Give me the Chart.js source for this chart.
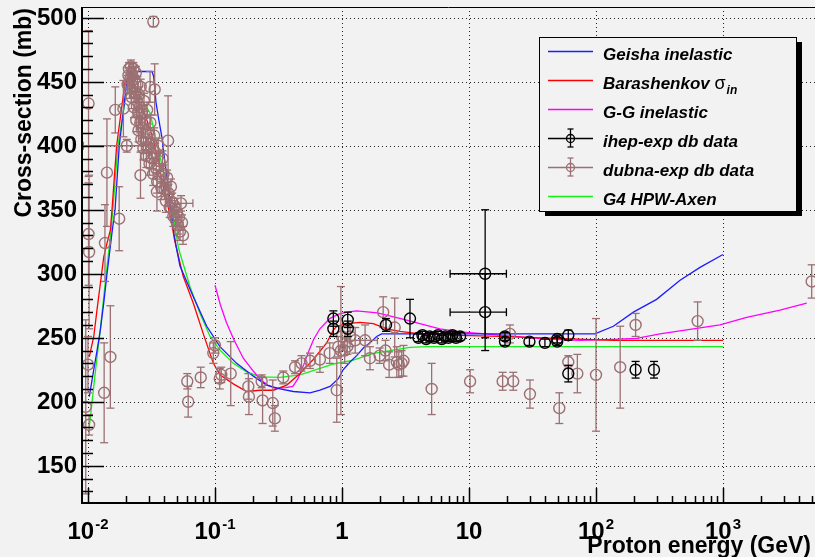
<!DOCTYPE html>
<html>
<head>
<meta charset="utf-8">
<title>Proton inelastic cross-section</title>
<script src="https://cdn.jsdelivr.net/npm/chart.js@4.4.1/dist/chart.umd.min.js"></script>
<style>
  html, body { margin: 0; padding: 0; background: #f2f2f2; }
  canvas { display: block; }
</style>
</head>
<body>
<canvas id="xsChart" width="815" height="557"></canvas>
<script>
// ---- model curves: proton energy (GeV) -> inelastic cross-section (mb) ----
const geishaE  = [0.01024, 0.0111, 0.01178, 0.0125, 0.0133, 0.01412, 0.01545, 0.01633, 0.01763, 0.0202, 0.0226, 0.0319, 0.0329, 0.0343, 0.036, 0.0383, 0.0402, 0.0427, 0.0453, 0.0473, 0.0493, 0.053, 0.0675, 0.0861, 0.1094, 0.148, 0.2005, 0.255, 0.325, 0.414, 0.56, 0.671, 0.805, 0.936, 1.02, 1.156, 1.305, 1.472, 1.66, 1.875, 2.05, 98, 137, 197, 300, 459, 659, 1000];
const geishaXs = [204, 225, 240, 256, 277, 300, 332, 350, 400, 450, 458, 458, 454, 434, 421, 406, 388, 369, 348, 333, 322, 306, 282, 259, 243, 230, 220, 213, 210, 208, 207, 209, 212, 218, 225, 231, 236, 242, 246, 251, 253, 253, 259, 270, 280, 295, 305, 315];

const barashE  = [0.01024, 0.0111, 0.01178, 0.0125, 0.0133, 0.01412, 0.015, 0.01545, 0.0168, 0.0196, 0.0218, 0.0243, 0.0275, 0.031, 0.0329, 0.036, 0.0383, 0.0407, 0.0437, 0.0459, 0.0481, 0.0562, 0.0675, 0.0809, 0.0971, 0.1094, 0.1393, 0.1776, 0.226, 0.288, 0.367, 0.467, 0.594, 0.758, 0.855, 0.909, 1.089, 1.387, 1.763, 2.25, 2.86, 4.11, 7.08, 17.5, 137, 1000];
const barashXs = [235, 251, 272, 292, 313, 324, 334, 350, 400, 450, 455, 437, 427, 412, 403, 388, 372, 362, 348, 338, 326, 298, 277, 253, 230, 221, 214, 208, 209, 209, 213, 222, 233, 246, 256, 259, 261, 262, 261, 257, 255, 253, 252, 251, 248, 248];

const ggE  = [0.1, 0.11, 0.123, 0.14, 0.167, 0.2, 0.23, 0.26, 0.3, 0.36, 0.41, 0.45, 0.5, 0.55, 0.6, 0.67, 0.8, 0.94, 1.1, 1.3, 1.9, 2.9, 4.1, 5.9, 8.5, 12, 17.5, 41, 75, 137, 209, 319, 584, 947, 1535, 2810, 4560];
const ggXs = [291, 276, 262, 249, 234, 224, 217, 213, 210.5, 211, 212, 218, 229, 240, 249, 257, 265, 268.5, 270, 271, 269.5, 265, 261, 257, 254.6, 253.4, 252, 249, 248, 248.8, 249.5, 253, 257, 260, 266, 271.5, 277];

const axenE  = [0.01024, 0.0111, 0.01178, 0.0125, 0.0133, 0.01412, 0.015, 0.0157, 0.0172, 0.0198, 0.0225, 0.0308, 0.0369, 0.0417, 0.047, 0.0514, 0.053, 0.0635, 0.0762, 0.0914, 0.1094, 0.1393, 0.1776, 0.226, 0.325, 0.467, 0.671, 0.855, 1.228, 1.763, 2.535, 3.43, 4.64, 1000];
const axenXs = [180.5, 212, 235, 256, 282, 305.5, 329, 350, 400, 438, 448, 425.5, 391.5, 368, 344.5, 321, 316, 290, 269, 251, 240.4, 230, 223.4, 219.5, 219, 221, 226, 229.5, 232.6, 237.8, 240.4, 242.5, 243, 243];

// ---- ihep measurements ----
const ihepE    = [0.855, 0.855, 1.11, 1.11, 2.22, 3.43, 4.0, 4.3, 4.6, 4.9, 5.3, 5.7, 6.1, 6.5, 6.9, 7.4, 7.9, 8.5, 13.4, 13.4, 19.2, 19.2, 29.9, 39.6, 49.5, 49.5, 60.5, 60.5, 205, 286];
const ihepXs   = [265, 257, 264, 257, 260, 265, 250, 252, 249, 251, 250, 252, 249, 251, 250, 252, 250, 251, 300, 270, 251, 247, 247, 246, 247, 249, 252, 222, 225, 225];
const ihepErr  = [6, 6, 6, 6, 5, 15, 3, 3, 3, 3, 3, 3, 3, 3, 3, 3, 3, 3, 50, 30, 3, 3, 3, 3, 3, 3, 4, 6.5, 6.5, 6.5];
const ihepEErr = [0, 0, 0, 0, 0, 0, 0, 0, 0, 0, 0, 0, 0, 0, 0, 0, 0, 0, 6.3, 6.3, 0, 0, 0, 0, 0, 0, 0, 0, 0, 0];

// ---- dubna measurements, grouped by energy range ----
const dubnaLowE   = [0.0101, 0.0101, 0.0102, 0.0100, 0.0096, 0.0102, 0.0134, 0.0136, 0.0141, 0.0150, 0.0164, 0.0176, 0.0190, 0.0259, 0.0308, 0.0335, 0.0327, 0.0349, 0.0427];
const dubnaLowXs  = [433, 331, 317, 229, 196, 182, 207, 324, 379, 235, 428, 343, 429, 377, 446, 444, 497, 364, 404];
const dubnaLowErr = [57, 40, 60, 22, 68, 8, 39, 30, 42, 40, 18, 25, 22, 18, 12, 20, 4, 15, 35];

const dubnaPeakE = [0.0205, 0.0208, 0.021, 0.0212, 0.0215, 0.0218, 0.022, 0.0222, 0.0225, 0.0228,
  0.023, 0.0232, 0.0235, 0.0238, 0.024, 0.0242, 0.0245, 0.0248, 0.025, 0.0252,
  0.0255, 0.0258, 0.026, 0.0263, 0.0266, 0.027, 0.0273, 0.0276, 0.028, 0.0284,
  0.0288, 0.0292, 0.0296, 0.030, 0.0305, 0.031, 0.0315, 0.032, 0.0326, 0.0332,
  0.0338, 0.0345, 0.035, 0.0357, 0.0364, 0.037, 0.0378, 0.0386, 0.0394, 0.040,
  0.041, 0.042, 0.043, 0.044, 0.045, 0.046, 0.047, 0.048, 0.049, 0.050,
  0.051, 0.052, 0.053, 0.055, 0.056];
const dubnaPeakXs = [448, 455, 460, 445, 452, 462, 438, 456, 447, 460,
  430, 452, 441, 457, 420, 435, 448, 426, 412, 440,
  430, 418, 446, 405, 425, 414, 398, 435, 420, 405,
  392, 428, 410, 398, 386, 418, 402, 390, 378, 408,
  395, 382, 372, 400, 388, 376, 367, 390, 378, 366,
  357, 375, 363, 352, 368, 356, 345, 353, 342, 348,
  338, 344, 333, 340, 330];
const dubnaPeakErr = [7, 6, 5, 8, 6, 5, 9, 6, 7, 5,
  8, 6, 7, 5, 9, 7, 6, 8, 9, 6,
  7, 8, 6, 9, 7, 8, 9, 6, 7, 8,
  9, 6, 7, 8, 9, 6, 7, 8, 9, 6,
  7, 8, 9, 6, 7, 8, 9, 6, 7, 8,
  9, 6, 7, 8, 6, 7, 8, 6, 7, 6,
  7, 6, 7, 6, 7];

const dubnaMidE   = [0.0605, 0.0615, 0.0772, 0.097, 0.100, 0.109, 0.112, 0.133, 0.183, 0.185, 0.233, 0.237, 0.285, 0.296, 0.345, 0.427, 0.48, 0.56, 0.67, 0.80, 0.909, 0.936, 0.98,
  1.0, 1.05, 1.1, 1.16, 1.27, 1.66, 1.98, 2.11, 2.2, 2.35, 2.6, 2.7, 2.8, 2.95, 3.05];
const dubnaMidXs  = [216, 200, 219, 238, 244, 218, 221, 222, 212, 204, 216, 201, 199, 187, 219, 227, 230, 232, 233, 238, 209, 243, 240,
  251, 240, 243, 251, 248, 234, 236, 270, 240, 229, 258, 231, 229, 230, 232];
const dubnaMidErr = [6, 12, 8, 8, 6, 8, 6, 25, 10, 14, 5, 18, 18, 10, 5, 5, 6, 6, 10, 8, 25, 8, 50,
  8, 10, 6, 8, 10, 9, 6, 12, 8, 10, 23, 12, 10, 10, 12];

const dubnaHighE   = [5.08, 10.2, 18.4, 21, 22.3, 30.2, 51.4, 60.5, 71.3, 100, 155, 205, 631, 4990];
const dubnaHighXs  = [210, 216, 216, 253, 216, 206, 195, 231, 222, 221, 227, 260, 263, 294];
const dubnaHighErr = [20, 9, 7, 7, 7, 11, 12, 5, 15, 44, 32, 9, 15, 13];

// dubna points that also carry an energy error
const dubnaWideE    = [0.0202, 0.054, 1.52];
const dubnaWideXs   = [400, 355, 248];
const dubnaWideErr  = [5, 6, 12];
const dubnaWideEErr = [0.011, 0.013, 0.38];

// ---- axis ticks ----
const xDecades = [0.01, 0.1, 1, 10, 100, 1000];
const xTickLabels = [['10', '-2'], ['10', '-1'], ['1', ''], ['10', ''], ['10', '2'], ['10', '3']];
const yMajorTicks = [150, 200, 250, 300, 350, 400, 450, 500];

const BG = '#f2f2f2';
const BROWN = '#9c7073';
const FONT = '"Liberation Sans", Arial, Helvetica, sans-serif';

const dubnaE = [].concat(dubnaLowE, dubnaPeakE, dubnaMidE, dubnaHighE, dubnaWideE);
const dubnaXs = [].concat(dubnaLowXs, dubnaPeakXs, dubnaMidXs, dubnaHighXs, dubnaWideXs);
const dubnaErr = [].concat(dubnaLowErr, dubnaPeakErr, dubnaMidErr, dubnaHighErr, dubnaWideErr);
const dubnaEErr = new Array(dubnaE.length - dubnaWideE.length).fill(0).concat(dubnaWideEErr);

const toPoints = (xs, ys) => xs.map((x, i) => ({ x: x, y: ys[i] }));

function curve(label, color, xs, ys) {
    return {
        label: label,
        data: toPoints(xs, ys),
        showLine: true,
        borderColor: color,
        borderWidth: 1.3,
        pointRadius: 0,
        tension: 0,
        order: 2
    };
}

function markers(label, color, xs, ys, errY, errX, order) {
    return {
        label: label,
        data: toPoints(xs, ys),
        showLine: false,
        pointStyle: 'circle',
        pointRadius: 5.5,
        pointBorderWidth: 1.4,
        pointBorderColor: color,
        pointBackgroundColor: 'rgba(0,0,0,0)',
        errColor: color,
        errY: errY,
        errX: errX,
        order: order
    };
}

// legend entries, in ROOT order
const legendEntries = [
    { text: 'Geisha inelastic', color: '#1c1cff' },
    { text: 'Barashenkov ', sigma: true, color: '#ff0000' },
    { text: 'G-G inelastic', color: '#ff00ff' },
    { text: 'ihep-exp db data', color: '#000000', marker: true },
    { text: 'dubna-exp db data', color: BROWN, marker: true },
    { text: 'G4 HPW-Axen', color: '#18ee18' }
];

function line(ctx, x1, y1, x2, y2) {
    ctx.beginPath();
    ctx.moveTo(x1, y1);
    ctx.lineTo(x2, y2);
    ctx.stroke();
}

// ROOT-like frame: dotted grid, inner ticks, labels, legend with shadow
const rootFrame = {
    id: 'rootFrame',
    beforeDatasetsDraw(chart) {
        const { ctx, chartArea: a, scales: { x, y } } = chart;
        ctx.save();
        ctx.strokeStyle = '#222';
        ctx.lineWidth = 1;
        ctx.setLineDash([1, 3]);
        xDecades.forEach(v => {
            const px = Math.round(x.getPixelForValue(v)) + 0.5;
            line(ctx, px, a.top, px, a.bottom);
        });
        yMajorTicks.forEach(v => {
            const py = Math.round(y.getPixelForValue(v)) + 0.5;
            line(ctx, a.left, py, a.right, py);
        });
        ctx.restore();
    },
    beforeDatasetDraw(chart, args) {
        const ds = chart.data.datasets[args.index];
        if (!ds.errY) return;
        const { ctx, chartArea: a, scales: { x, y } } = chart;
        ctx.save();
        ctx.beginPath();
        ctx.rect(a.left, a.top, a.right - a.left, a.bottom - a.top);
        ctx.clip();
        ctx.strokeStyle = ds.errColor;
        ctx.lineWidth = 1.3;
        ds.data.forEach((p, i) => {
            const px = x.getPixelForValue(p.x);
            const py = y.getPixelForValue(p.y);
            const ey = ds.errY[i] || 0;
            const ex = ds.errX[i] || 0;
            if (ey > 0) {
                const y1 = y.getPixelForValue(p.y - ey);
                const y2 = y.getPixelForValue(p.y + ey);
                line(ctx, px, y1, px, y2);
                line(ctx, px - 4, y1, px + 4, y1);
                line(ctx, px - 4, y2, px + 4, y2);
            }
            if (ex > 0) {
                const x1 = x.getPixelForValue(Math.max(p.x - ex, 1e-6));
                const x2 = x.getPixelForValue(p.x + ex);
                line(ctx, x1, py, x2, py);
                line(ctx, x1, py - 4, x1, py + 4);
                line(ctx, x2, py - 4, x2, py + 4);
            }
        });
        ctx.restore();
    },
    afterDraw(chart) {
        const { ctx, chartArea: a, scales: { x, y } } = chart;
        ctx.save();
        ctx.strokeStyle = '#000';

        // frame
        ctx.lineWidth = 1;
        line(ctx, a.left, a.top + 0.5, a.right, a.top + 0.5);
        ctx.lineWidth = 2;
        line(ctx, a.left, a.top, a.left, a.bottom + 1);
        line(ctx, a.left, a.bottom, a.right, a.bottom);

        // y ticks: major every 50, minor every 10
        ctx.lineWidth = 1.5;
        for (let v = 130; v <= 500; v += 10) {
            const py = Math.round(y.getPixelForValue(v)) + 0.5;
            const len = v % 50 === 0 ? 22 : 11;
            line(ctx, a.left, py, a.left + len, py);
        }
        // x ticks: decades and 2..9 inside each decade
        xDecades.concat([10000]).forEach(d => {
            for (let m = 1; m <= 9; m++) {
                const v = d * m;
                if (v < x.min || v > x.max) continue;
                const px = Math.round(x.getPixelForValue(v)) + 0.5;
                const len = m === 1 ? 15 : 7;
                line(ctx, px, a.bottom, px, a.bottom - len);
            }
        });

        // tick labels
        ctx.fillStyle = '#000';
        ctx.font = 'bold 24px ' + FONT;
        ctx.textAlign = 'right';
        ctx.textBaseline = 'middle';
        yMajorTicks.forEach(v => {
            ctx.fillText(String(v), 77, y.getPixelForValue(v) + 1);
        });

        ctx.textAlign = 'left';
        ctx.textBaseline = 'alphabetic';
        xDecades.forEach((v, i) => {
            const [base, sup] = xTickLabels[i];
            ctx.font = 'bold 24px ' + FONT;
            const wb = ctx.measureText(base).width;
            ctx.font = 'bold 15px ' + FONT;
            const ws = sup ? ctx.measureText(sup).width + 1 : 0;
            const x0 = x.getPixelForValue(v) - (wb + ws) / 2;
            ctx.font = 'bold 24px ' + FONT;
            ctx.fillText(base, x0, 539);
            if (sup) {
                ctx.font = 'bold 15px ' + FONT;
                ctx.fillText(sup, x0 + wb + 1, 529);
            }
        });

        // axis titles
        ctx.font = 'bold 23px ' + FONT;
        ctx.textAlign = 'right';
        ctx.fillText('Proton energy (GeV)', 811, 553);
        ctx.save();
        ctx.translate(31, 8);
        ctx.rotate(-Math.PI / 2);
        ctx.fillText('Cross-section (mb)', 0, 0);
        ctx.restore();

        // legend box with ROOT shadow
        const bx = 539, by = 37, bw = 257, bh = 174;
        ctx.fillStyle = '#000';
        ctx.fillRect(bx + 6, by + 5, bw, bh);
        ctx.fillStyle = BG;
        ctx.fillRect(bx, by, bw, bh);
        ctx.lineWidth = 1;
        ctx.strokeRect(bx + 0.5, by + 0.5, bw, bh);

        legendEntries.forEach((e, i) => {
            const ly = 51 + i * 29;
            ctx.strokeStyle = e.color;
            ctx.lineWidth = e.marker ? 1.3 : 1.5;
            line(ctx, 548, ly + 0.5, 593, ly + 0.5);
            if (e.marker) {
                const cx = 570.5;
                line(ctx, cx, ly - 9, cx, ly + 9);
                line(ctx, cx - 3, ly - 9, cx + 3, ly - 9);
                line(ctx, cx - 3, ly + 9, cx + 3, ly + 9);
                ctx.beginPath();
                ctx.arc(cx, ly + 0.5, 4, 0, Math.PI * 2);
                ctx.stroke();
            }
            ctx.fillStyle = '#000';
            ctx.textAlign = 'left';
            ctx.font = 'italic bold 17px ' + FONT;
            ctx.fillText(e.text, 603, ly + 9);
            if (e.sigma) {
                const w = ctx.measureText(e.text).width;
                ctx.font = '18px ' + FONT;
                ctx.fillText('σ', 603 + w, ly + 9);
                const ws = ctx.measureText('σ').width;
                ctx.font = 'italic bold 12px ' + FONT;
                ctx.fillText('in', 603 + w + ws + 1, ly + 14);
            }
        });
        ctx.restore();
    }
};

const ctx = document.getElementById('xsChart').getContext('2d');

new Chart(ctx, {
    type: 'scatter',
    data: {
        datasets: [
            markers('ihep-exp db data', '#000000', ihepE, ihepXs, ihepErr, ihepEErr, 0),
            markers('dubna-exp db data', BROWN, dubnaE, dubnaXs, dubnaErr, dubnaEErr, 1),
            curve('Geisha inelastic', '#1c1cff', geishaE, geishaXs),
            curve('Barashenkov', '#ff0000', barashE, barashXs),
            curve('G-G inelastic', '#ff00ff', ggE, ggXs),
            curve('G4 HPW-Axen', '#18ee18', axenE, axenXs)
        ]
    },
    options: {
        responsive: false,
        animation: false,
        devicePixelRatio: 1,
        layout: { autoPadding: false, padding: { left: 82, right: 0, top: 7, bottom: 54 } },
        plugins: {
            legend: { display: false },
            tooltip: { enabled: false }
        },
        scales: {
            x: { type: 'logarithmic', min: 0.00897, max: 5300, display: false },
            y: { type: 'linear', min: 120.9, max: 508.4, display: false }
        }
    },
    plugins: [rootFrame]
});
</script>
</body>
</html>
